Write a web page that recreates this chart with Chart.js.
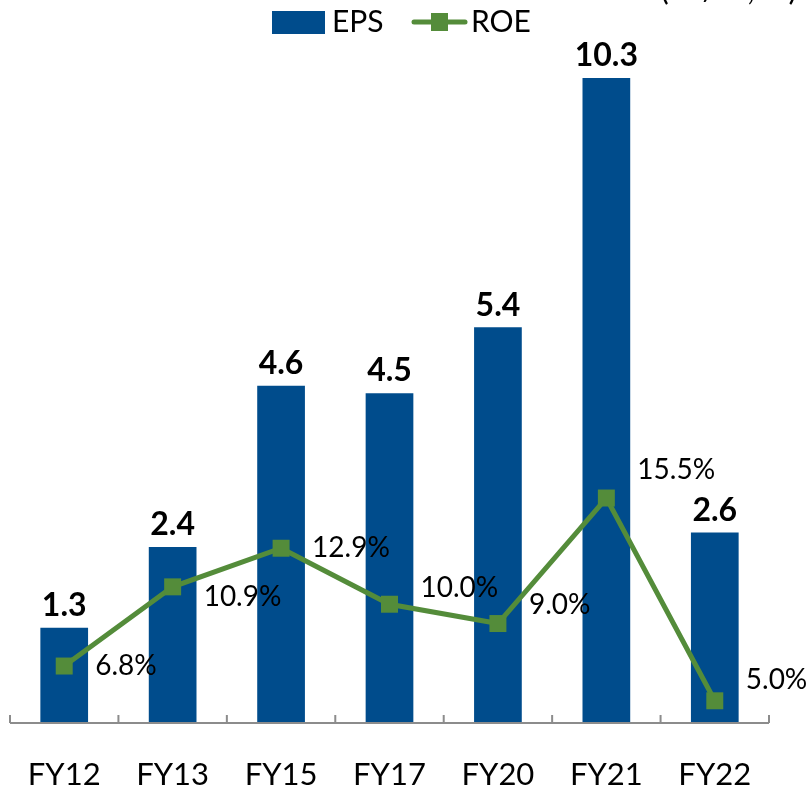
<!DOCTYPE html>
<html>
<head>
<meta charset="utf-8">
<script src="https://cdn.jsdelivr.net/npm/chart.js@4"></script>
<style>
  html, body { margin: 0; padding: 0; background: #fff; }
  #wrap { width: 807px; height: 792px; }
</style>
</head>
<body>
<div id="wrap"><canvas id="epsChart" width="807" height="792"></canvas></div>
<script>
// data
const years = ['FY12', 'FY13', 'FY15', 'FY17', 'FY20', 'FY21', 'FY22'];
const eps = [1.3, 2.4, 4.6, 4.5, 5.4, 10.3, 2.6];
const roe = [6.8, 10.9, 12.9, 10.0, 9.0, 15.5, 5.0];

const FONT = 'Lato, "Open Sans", sans-serif';
const BLUE = '#004C8C';
const GREEN = '#548C3A';

// ROE label nudges (px) so they sit like the original
const roeLabelDy = [0, 10, 0, -16, -19, -28, -21];

const labelsPlugin = {
  id: 'labels',
  afterDatasetsDraw(chart) {
    const ctx = chart.ctx;
    const area = chart.chartArea;
    ctx.save();
    // EPS values above the bars
    ctx.font = 'bold 32px ' + FONT;
    ctx.fillStyle = '#000';
    ctx.textAlign = 'center';
    ctx.textBaseline = 'middle';
    chart.getDatasetMeta(0).data.forEach((bar, i) => {
      const top = Math.max(bar.y, area.top);
      ctx.fillText(eps[i].toFixed(1), bar.x, top - 22);
    });
    // ROE values right of the points
    ctx.font = '28px ' + FONT;
    ctx.textAlign = 'left';
    chart.getDatasetMeta(1).data.forEach((pt, i) => {
      ctx.fillText(roe[i].toFixed(1) + '%', pt.x + 31, pt.y + roeLabelDy[i]);
    });
    // x axis line with inward ticks
    const xs = chart.scales.x;
    ctx.strokeStyle = '#8c8c8c';
    ctx.lineWidth = 2;
    ctx.beginPath();
    ctx.moveTo(area.left, area.bottom);
    ctx.lineTo(area.right, area.bottom);
    for (let i = 0; i <= years.length; i++) {
      let x;
      if (i === 0) x = area.left;
      else if (i === years.length) x = area.right;
      else x = (xs.getPixelForValue(i - 1) + xs.getPixelForValue(i)) / 2;
      ctx.moveTo(x, area.bottom);
      ctx.lineTo(x, area.bottom - 8);
    }
    ctx.stroke();

    // legend
    ctx.font = '30px ' + FONT;
    ctx.textBaseline = 'middle';
    ctx.fillStyle = BLUE;
    ctx.fillRect(272, 11, 53, 23);
    ctx.fillStyle = '#000';
    ctx.fillText('EPS', 332, 22);
    ctx.strokeStyle = GREEN;
    ctx.lineWidth = 5;
    ctx.lineCap = 'round';
    ctx.beginPath();
    ctx.moveTo(414, 22);
    ctx.lineTo(465, 22);
    ctx.stroke();
    ctx.fillStyle = GREEN;
    ctx.fillRect(431, 13, 17, 18);
    ctx.fillStyle = '#000';
    ctx.fillText('ROE', 471, 22);

    // unit note, cut off at the top edge
    ctx.textAlign = 'right';
    ctx.textBaseline = 'alphabetic';
    ctx.font = '32px ' + FONT;
    ctx.fillText('(Rs/sh, %)', 797, 0);
    ctx.restore();
  }
};

new Chart(document.getElementById('epsChart'), {
  data: {
    labels: years,
    datasets: [
      {
        type: 'bar',
        label: 'EPS',
        data: eps,
        backgroundColor: BLUE,
        barPercentage: 0.44,
        categoryPercentage: 1,
        yAxisID: 'y',
        order: 2
      },
      {
        type: 'line',
        label: 'ROE',
        data: roe,
        borderColor: GREEN,
        backgroundColor: GREEN,
        borderWidth: 5,
        pointStyle: 'rect',
        pointRadius: 12,
        pointHoverRadius: 12,
        pointBorderWidth: 0,
        tension: 0,
        yAxisID: 'y2',
        order: 1
      }
    ]
  },
  options: {
    responsive: false,
    animation: false,
    layout: { autoPadding: false, padding: { top: 78, left: 10, right: 38, bottom: 0 } },
    plugins: {
      legend: { display: false },
      tooltip: { enabled: false }
    },
    scales: {
      x: {
        grid: { display: false },
        border: { display: false },
        ticks: { color: '#000', font: { family: FONT, size: 31 }, padding: 25 },
        afterFit(scale) {
          scale.height = 69;
          scale.paddingLeft = 0;
          scale.paddingRight = 0;
        }
      },
      y: {
        display: false,
        min: 0,
        max: 8.8
      },
      y2: {
        display: false,
        min: 3.85,
        max: 37.25
      }
    }
  },
  plugins: [labelsPlugin]
});
</script>
</body>
</html>
